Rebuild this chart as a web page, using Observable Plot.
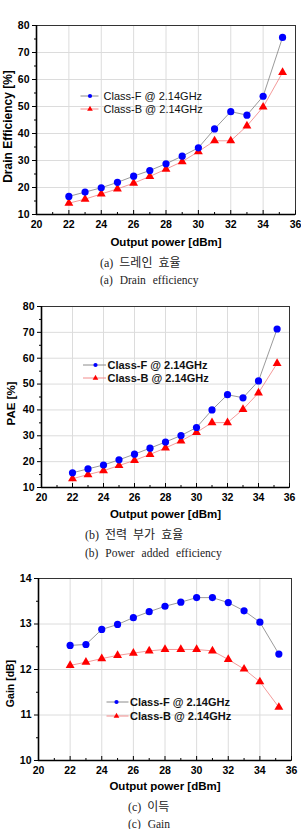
<!DOCTYPE html>
<html>
<head>
<meta charset="utf-8">
<script src="https://cdn.jsdelivr.net/npm/d3@7"></script>
<script src="https://cdn.jsdelivr.net/npm/@observablehq/plot@0.6"></script>
<style>
  html, body { margin: 0; padding: 0; background: #fff; }
  #page { position: relative; width: 301px; height: 829px; overflow: hidden; font-family: "Liberation Sans", Arial, sans-serif; }
  .panel { position: absolute; left: 0; }
  .legend { position: absolute; left: 0; top: 0; pointer-events: none; }
  .cap { position: absolute; white-space: nowrap; color: #222; font-family: "Liberation Serif", "Noto Sans CJK KR", serif; line-height: 14px; }
  .cap.en { font-size: 11.5px; word-spacing: 4px; }
  .cap.ko { font-size: 12px; word-spacing: 3px; font-family: "Liberation Serif", "Noto Sans CJK KR", serif; }
</style>
</head>
<body>
<div id="page"></div>
<script>
// Output power sweep (dBm)
const power = [22, 23, 24, 25, 26, 27, 28, 29, 30, 31, 32, 33, 34, 35.2];

// Drain efficiency [%]
const drainF = [16.7, 18.3, 19.9, 21.9, 24.2, 26.3, 28.8, 31.6, 34.7, 41.7, 48.1, 46.8, 53.8, 75.6];
const drainB = [14.2, 15.7, 17.6, 19.5, 21.6, 24.1, 26.8, 29.6, 33.3, 37.3, 37.3, 42.8, 49.8, 62.6];

// Power added efficiency [%]
const paeF = [15.7, 17.2, 18.7, 20.7, 22.9, 25.2, 27.6, 30.1, 33.2, 40.0, 45.9, 44.7, 51.2, 71.3];
const paeB = [13.4, 15.0, 16.5, 18.5, 20.5, 22.8, 25.3, 28.0, 31.3, 35.1, 35.1, 40.2, 46.6, 58.0];

// Gain [dB]
const gainF = [12.53, 12.55, 12.88, 12.99, 13.14, 13.27, 13.39, 13.48, 13.58, 13.58, 13.47, 13.29, 13.04, 12.34];
const gainB = [12.09, 12.16, 12.24, 12.31, 12.36, 12.41, 12.44, 12.44, 12.44, 12.41, 12.22, 12.01, 11.73, 11.17];

const seriesNames = ["Class-F @ 2.14GHz", "Class-B @ 2.14GHz"];

// Axis ticks
const xDomain = [20, 36];
const xTicks = [20, 22, 24, 26, 28, 30, 32, 34, 36];
const xMinor = [21, 23, 25, 27, 29, 31, 33, 35];
const effDomain = [10, 80];
const effTicks = [10, 20, 30, 40, 50, 60, 70, 80];
const effMinor = [15, 25, 35, 45, 55, 65, 75];
const gainDomain = [10, 14];
const gainTicks = [10, 11, 12, 13, 14];
const gainMinor = [10.5, 11.5, 12.5, 13.5];

const yTitles = ["Drain Efficiency [%]", "PAE [%]", "Gain [dB]"];
const xTitle = "Output power [dBm]";
const captionsKo = ["(a) 드레인 효율", "(b) 전력 부가 효율", "(c) 이득"];
const captionsEn = ["(a) Drain efficiency", "(b) Power added efficiency", "(c) Gain"];

const BLUE = "#0000ff", RED = "#ff0000";
const LINE_F = "#808080", LINE_B = "#f08080";

const page = document.getElementById("page");

function makePanel(cfg) {
  const rowsF = power.map((p, i) => ({power: p, value: cfg.f[i]}));
  const rowsB = power.map((p, i) => ({power: p, value: cfg.b[i]}));
  const frameH = cfg.height - cfg.mt - cfg.mb;
  const font = {fontSize: 10.5, fontWeight: "bold"};

  const chart = Plot.plot({
    width: 301,
    height: cfg.height,
    marginTop: cfg.mt,
    marginBottom: cfg.mb,
    marginLeft: cfg.ml,
    marginRight: cfg.mr,
    style: {background: "transparent", color: "#000", fontFamily: "Liberation Sans, Arial, sans-serif", overflow: "visible"},
    x: {domain: xDomain},
    y: {domain: cfg.domain},
    marks: [
      Plot.gridX(xTicks, {stroke: "#dcdcdc", strokeOpacity: 1}),
      Plot.gridY(cfg.ticks, {stroke: "#dcdcdc", strokeOpacity: 1}),
      Plot.frame({stroke: "#333", strokeWidth: 1}),
      Plot.ruleX([xDomain[0]], {stroke: "#000", strokeWidth: 1.6}),
      Plot.ruleY([cfg.domain[0]], {stroke: "#000", strokeWidth: 1.6}),
      // x ticks point into the frame
      Plot.ruleX(xTicks, {x: d => d, insetTop: frameH - 4, stroke: "#000"}),
      Plot.ruleX(xMinor, {x: d => d, insetTop: frameH - 2, stroke: "#000"}),
      Plot.axisX({ticks: xTicks, tickSize: 0, tickPadding: 6, tickFormat: d => String(d), label: null, ...font}),
      Plot.axisY({ticks: cfg.ticks, tickSize: 4, tickPadding: 3, tickFormat: d => String(d), label: null, ...font}),
      Plot.axisY({ticks: cfg.minor, tickSize: 2, tickFormat: () => "", label: null}),
      Plot.text([cfg.yTitle], {text: d => d, frameAnchor: "left", textAnchor: "middle", rotate: -90, dx: cfg.ytDx, dy: cfg.ytDy, fontSize: cfg.ytSize, fontWeight: "bold", fill: "#000"}),
      Plot.text([xTitle], {text: d => d, frameAnchor: "bottom", dy: cfg.xtDy, fontSize: 11.5, fontWeight: "bold", fill: "#000"}),
      Plot.line(rowsF, {x: "power", y: "value", stroke: LINE_F, strokeWidth: 0.8}),
      Plot.line(rowsB, {x: "power", y: "value", stroke: LINE_B, strokeWidth: 0.8}),
      Plot.dot(rowsB, {x: "power", y: "value", symbol: "triangle", r: 3.3, fill: RED, stroke: "none"}),
      Plot.dot(rowsF, {x: "power", y: "value", r: 3.6, fill: BLUE, stroke: "none"})
    ]
  });
  const wrap = document.createElement("div");
  wrap.className = "panel";
  wrap.style.top = cfg.top + "px";
  wrap.appendChild(chart);
  page.appendChild(wrap);

  // legend inside the plot area
  const lg = d3.select(page).append("svg").attr("class", "legend")
    .attr("width", 301).attr("height", 829);
  const rows = [
    {name: seriesNames[0], y: cfg.lg.y0, line: LINE_F, color: BLUE, sym: d3.symbolCircle, size: Math.PI * 2.1 * 2.1},
    {name: seriesNames[1], y: cfg.lg.y1, line: LINE_B, color: RED, sym: d3.symbolTriangle, size: 14}
  ];
  const g = lg.selectAll("g").data(rows).join("g").attr("transform", d => `translate(0,${d.y})`);
  g.append("line").attr("x1", cfg.lg.x0).attr("x2", cfg.lg.x1).attr("stroke", d => d.line).attr("stroke-width", 0.9);
  g.append("path").attr("transform", `translate(${cfg.lg.xm},0)`).attr("d", d => d3.symbol(d.sym, d.size)()).attr("fill", d => d.color);
  g.append("text").attr("x", cfg.lg.xt).attr("dy", "0.36em").text(d => d.name)
    .attr("font-family", "Liberation Sans, Arial, sans-serif").attr("font-size", cfg.lg.size)
    .attr("font-weight", cfg.lg.weight).attr("fill", "#111");

  const ko = document.createElement("div");
  ko.className = "cap ko"; ko.textContent = cfg.ko;
  ko.style.left = cfg.capX + "px"; ko.style.top = (cfg.capKoY - 7) + "px";
  page.appendChild(ko);
  const en = document.createElement("div");
  en.className = "cap en"; en.textContent = cfg.en;
  en.style.left = cfg.capX + "px"; en.style.top = (cfg.capEnY - 7) + "px";
  page.appendChild(en);
}

makePanel({
  top: 0, height: 256, mt: 25, mb: 42, ml: 36, mr: 6,
  domain: effDomain, ticks: effTicks, minor: effMinor, f: drainF, b: drainB,
  yTitle: yTitles[0], ytDx: -28.5, ytDy: 6.5, ytSize: 12, xtDy: 31,
  lg: {x0: 80.5, x1: 98.5, xm: 90, xt: 103.5, y0: 96, y1: 109, size: 11, weight: "normal"},
  ko: captionsKo[0], en: captionsEn[0], capX: 100, capKoY: 263, capEnY: 280
});

makePanel({
  top: 290, height: 240, mt: 16, mb: 43, ml: 41, mr: 12,
  domain: effDomain, ticks: effTicks, minor: effMinor, f: paeF, b: paeB,
  yTitle: yTitles[1], ytDx: -30.5, ytDy: 6.5, ytSize: 11.5, xtDy: 30,
  lg: {x0: 83, x1: 106, xm: 95.5, xt: 107.5, y0: 365, y1: 378, size: 11, weight: "bold"},
  ko: captionsKo[1], en: captionsEn[1], capX: 85, capKoY: 535, capEnY: 552.5
});

makePanel({
  top: 565, height: 235, mt: 13, mb: 40, ml: 38, mr: 10,
  domain: gainDomain, ticks: gainTicks, minor: gainMinor, f: gainF, b: gainB,
  yTitle: yTitles[2], ytDx: -27.5, ytDy: 14, ytSize: 10.5, xtDy: 29,
  lg: {x0: 106.5, x1: 128.5, xm: 116.5, xt: 130, y0: 702, y1: 716, size: 11, weight: "bold"},
  ko: captionsKo[2], en: captionsEn[2], capX: 128, capKoY: 807, capEnY: 824
});
</script>
</body>
</html>
